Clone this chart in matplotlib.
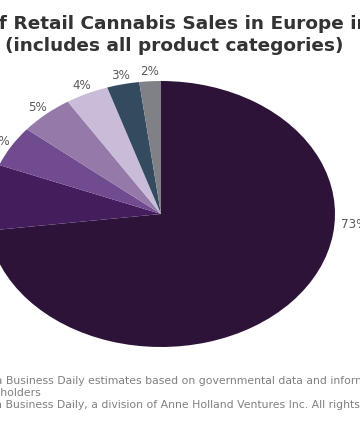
import matplotlib
matplotlib.use("Agg")
import matplotlib.pyplot as plt
import numpy as np

# share of retail sales, clockwise from 12 o'clock
shares = [73, 8, 5, 5, 4, 3, 2]
labels = ["73%", "8%", "5%", "5%", "4%", "3%", "2%"]
colors = ["#2e1339", "#431d5c", "#714b8f", "#9479a9", "#c9bcd9", "#344a5f", "#808186"]

title_1 = ("Share o", "f Retail Cannabis Sales in Europe in 2021")
title_2 = "(includes all product categories)"
notes = [
    ("Source: Marijuana", " Business Daily estimates based on governmental data and information from industry"),
    ("industry stake", "holders"),
    ("© Marijuana", " Business Daily, a division of Anne Holland Ventures Inc. All rights reserved."),
]

W, H = 360, 428
fig = plt.figure(figsize=(W / 100, H / 100), dpi=100)
renderer = fig.canvas.get_renderer()

# pie is stretched (ellipse), centre at (161, 214) px, radii 174 x 133
ax = fig.add_axes([-13 / W, 81 / H, 348 / W, 266 / H])
wedges, texts = ax.pie(shares, colors=colors, startangle=90, counterclock=False,
                       labels=labels, labeldistance=1.07,
                       textprops=dict(color="#595959", fontsize=8.6))
ax.set_aspect("auto")
ax.set_xlim(-1, 1)
ax.set_ylim(-1, 1)
for t in texts:
    t.set_horizontalalignment("center")
    t.set_verticalalignment("center")
# the big slice label sits at the right side of the pie
ang = np.deg2rad(-4.5)
texts[0].set_position((1.04 * np.cos(ang), 1.04 * np.sin(ang)))
texts[0].set_horizontalalignment("left")


def text_from(x_px, y_px, prefix, rest, **kw):
    tmp = fig.text(0, 0, prefix, **kw)
    w = tmp.get_window_extent(renderer).width
    tmp.remove()
    fig.text((x_px - w) / W, 1 - y_px / H, prefix + rest, va="baseline", **kw)


tkw = dict(fontsize=13.3, fontweight="bold", color="#333333")
text_from(-1, 29, title_1[0], title_1[1], **tkw)
fig.text(174 / W, 1 - 51 / H, title_2, ha="center", va="baseline", **tkw)

nkw = dict(fontsize=7.8, color="#808080")
text_from(2, 384, notes[0][0], notes[0][1], **nkw)
text_from(0, 396, notes[1][0], notes[1][1], **nkw)
text_from(2, 408, notes[2][0], notes[2][1], **nkw)

fig.savefig("out.png", dpi=100)
